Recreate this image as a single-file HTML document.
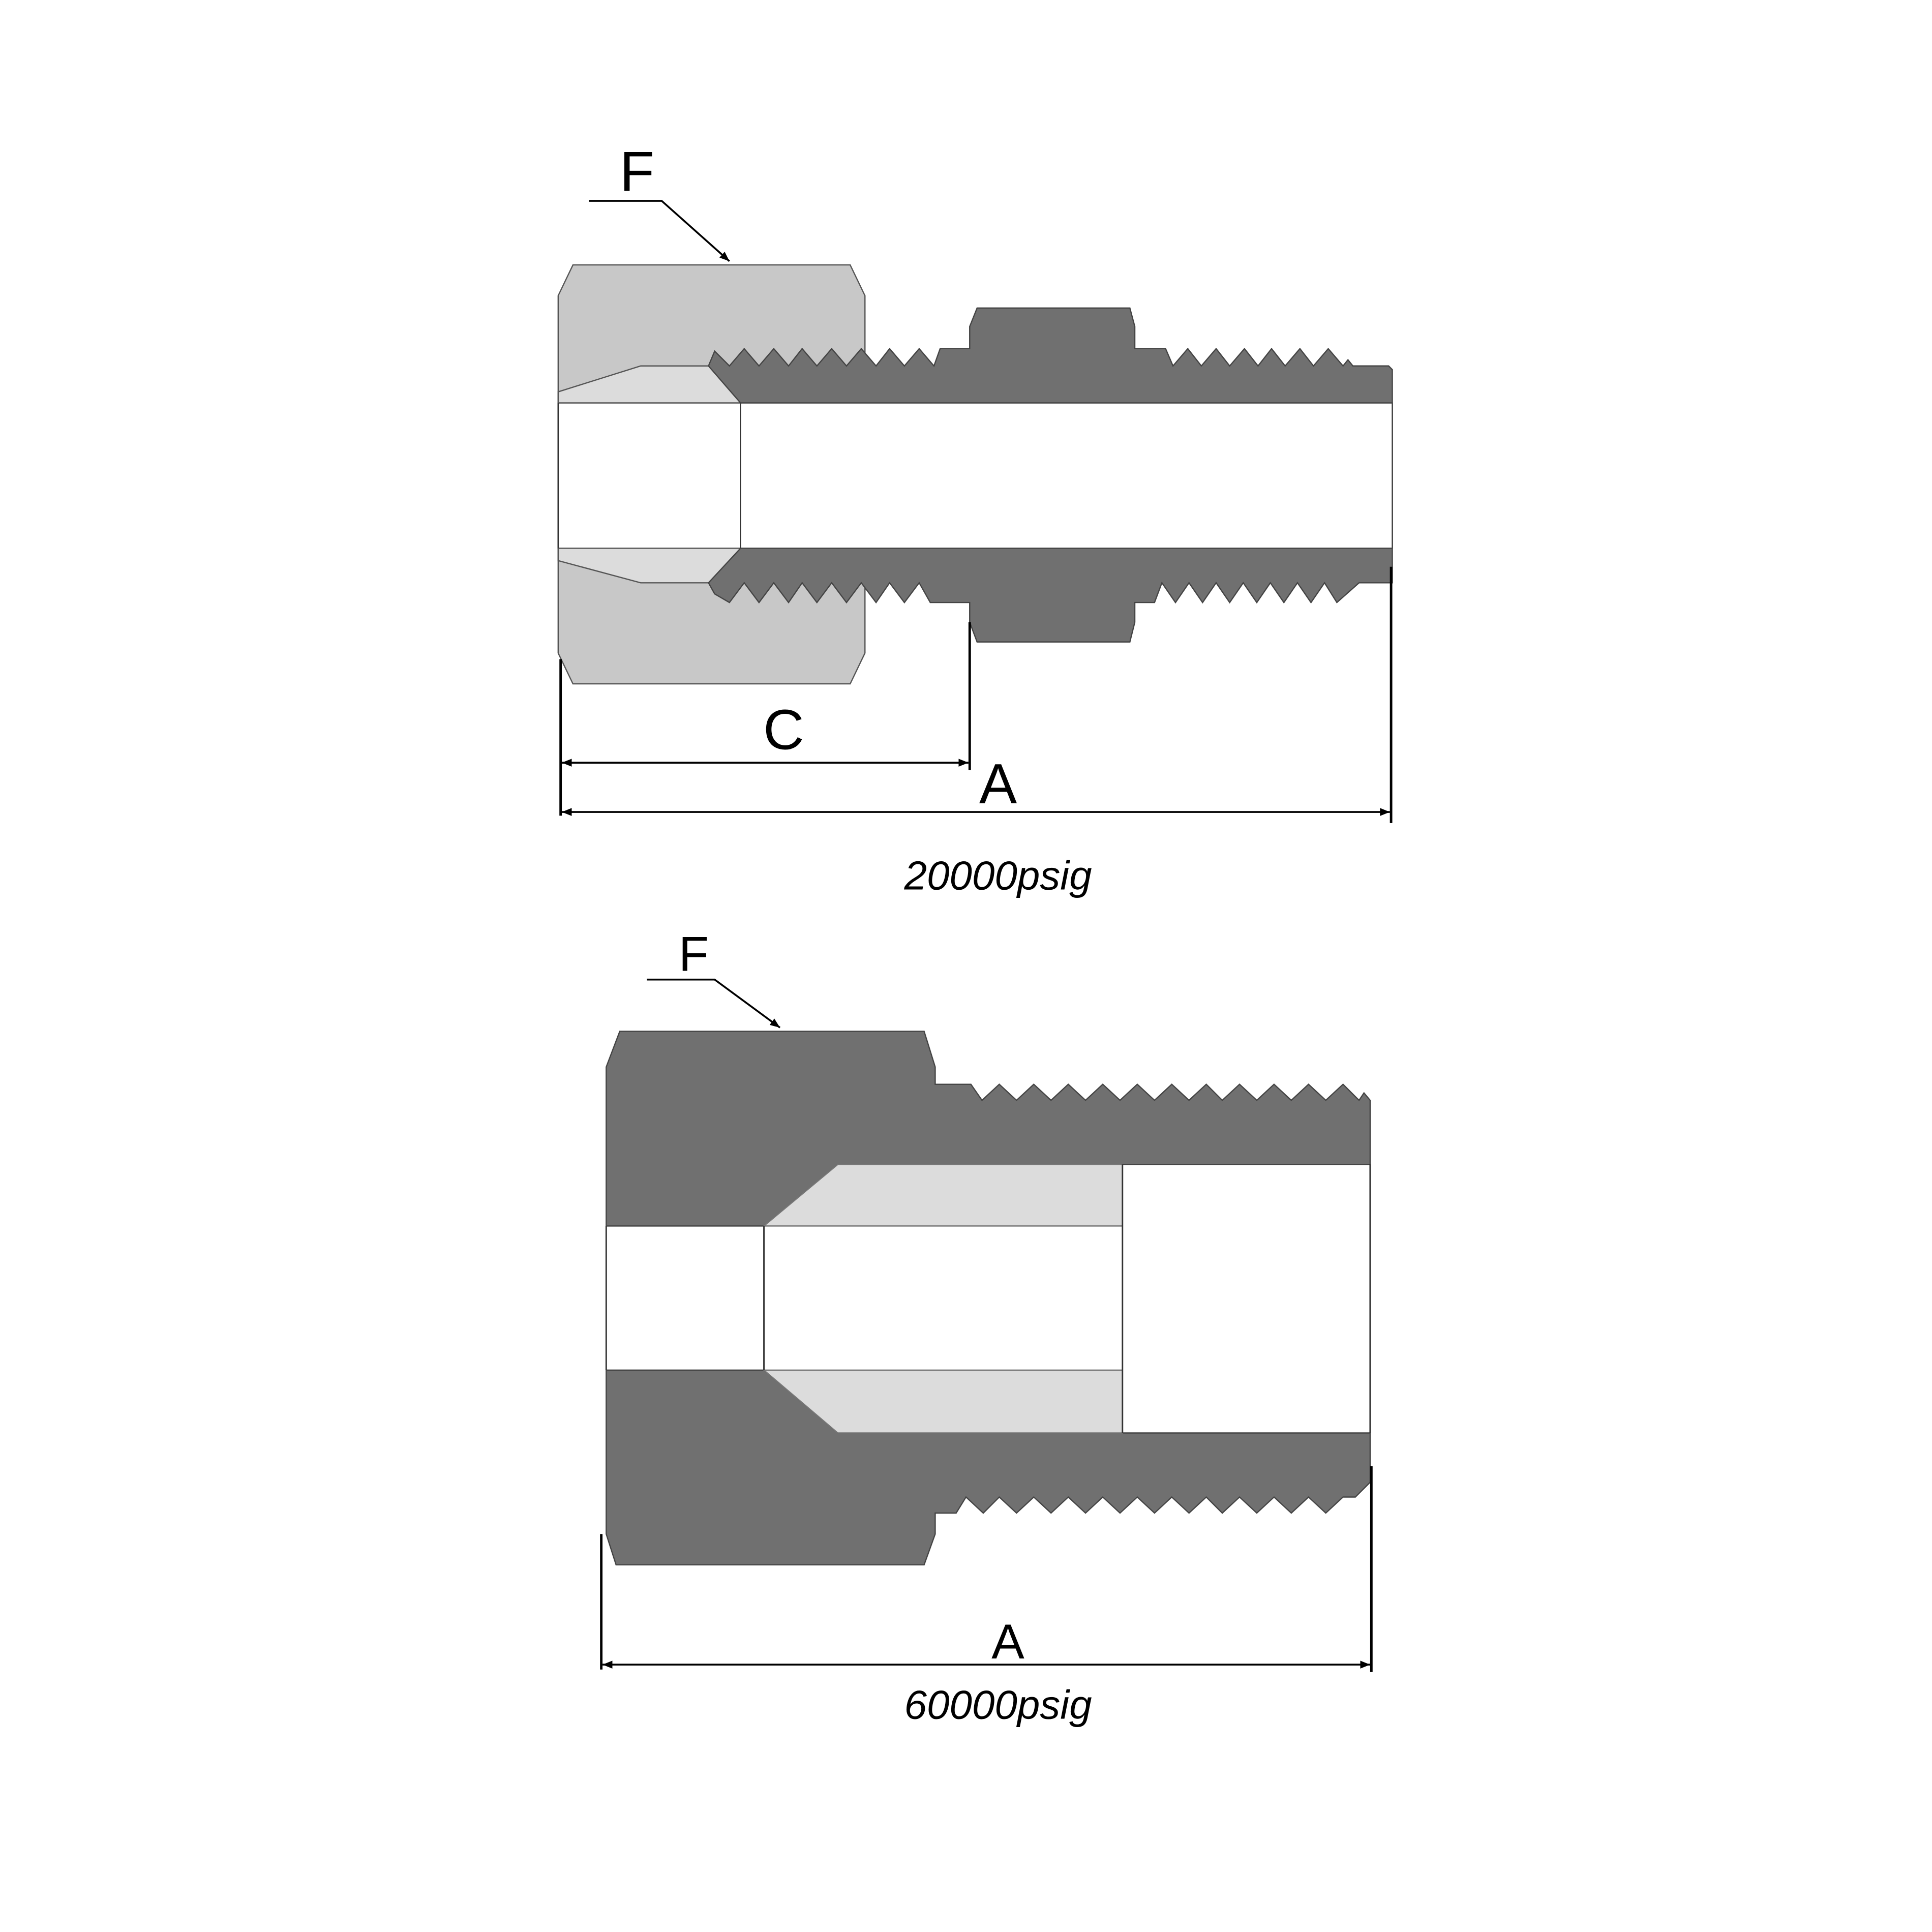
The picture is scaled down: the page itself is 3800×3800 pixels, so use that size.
<!DOCTYPE html>
<html><head><meta charset="utf-8"><style>html,body{margin:0;padding:0;background:#fff}svg{display:block}</style></head>
<body>
<svg width="3800" height="3800" viewBox="0 0 1568 1568" xmlns="http://www.w3.org/2000/svg" font-family="'Liberation Sans', sans-serif">
<rect width="1568" height="1568" fill="#fff"/>
<defs><marker id="ar" viewBox="0 0 10 10" refX="10" refY="5" markerWidth="20" markerHeight="8" markerUnits="userSpaceOnUse" orient="auto-start-reverse"><path d="M0,1 L10,5 L0,9Z" fill="#000"/></marker></defs>

<!-- TOP DRAWING -->
<polygon points="465,215 690,215 702,240 702,530 690,555 465,555 453,530 453,240" fill="#c8c8c8" stroke="#555" stroke-width="1"/>
<rect x="453" y="327" width="677" height="118" fill="#fff" stroke="#333" stroke-width="1"/>
<polygon points="453,318 520,297 577,297 601,327 453,327" fill="#dcdcdc" stroke="#555" stroke-width="1"/>
<polygon points="453,455 520,473 577,473 601,445 453,445" fill="#dcdcdc" stroke="#555" stroke-width="1"/>
<line x1="453" y1="327" x2="453" y2="445" stroke="#333"/>
<line x1="601" y1="327" x2="601" y2="445" stroke="#333"/>
<path d="M601,327 L575,297 L580,285 L592,297 L604,283 L616,297 L628,283 L640,297 L651,283 L663,297 L675,283 L687,297 L699,283 L711,297 L722,283 L734,297 L746,283 L758,297 L763,283 L787,283 L787,265 L793,250 L917,250 L921,265 L921,283 L946,283 L952,297 L964,283 L975,297 L987,283 L998,297 L1010,283 L1021,297 L1032,283 L1043,297 L1055,283 L1066,297 L1078,283 L1090,297 L1094,292 L1098,297 L1127,297 L1130,300 L1130,327 Z" fill="#707070" stroke="#444" stroke-width="1"/>
<path d="M601,445 L575,473 L580,482 L592,489 L604,473 L616,489 L628,473 L640,489 L651,473 L663,489 L675,473 L687,489 L699,473 L711,489 L722,473 L734,489 L746,473 L755,489 L787,489 L787,505 L793,521 L917,521 L921,505 L921,489 L937,489 L943,473 L954,489 L965,473 L976,489 L987,473 L998,489 L1009,473 L1020,489 L1031,473 L1042,489 L1053,473 L1064,489 L1075,473 L1085,489 L1103,473 L1130,473 L1130,445 Z" fill="#707070" stroke="#444" stroke-width="1"/>
<g stroke="#000" stroke-width="2" fill="none">
<line x1="455" y1="535" x2="455" y2="662"/>
<line x1="787" y1="505" x2="787" y2="625"/>
<line x1="1129" y1="460" x2="1129" y2="668"/>
<line x1="456" y1="619" x2="786" y2="619" marker-end="url(#ar)" marker-start="url(#ar)" stroke-width="1.5"/>
<line x1="456" y1="659" x2="1128" y2="659" marker-end="url(#ar)" marker-start="url(#ar)" stroke-width="1.5"/>
<polyline points="478,163 537,163 592,212" stroke-width="1.5" marker-end="url(#ar)"/>
</g>
<text x="517" y="155" font-size="46" text-anchor="middle">F</text>
<text x="636" y="608" font-size="46" text-anchor="middle">C</text>
<text x="810" y="652" font-size="46" text-anchor="middle">A</text>
<text x="810" y="722" font-size="33" font-style="italic" text-anchor="middle">20000psig</text>

<!-- BOTTOM DRAWING -->
<path d="M503,837 L750,837 L759,866 L759,880 L788,880 L797,893 L811,880 L825,893 L839,880 L853,893 L867,880 L881,893 L895,880 L909,893 L923,880 L937,893 L951,880 L965,893 L979,880 L992,893 L1006,880 L1020,893 L1034,880 L1048,893 L1062,880 L1076,893 L1090,880 L1103,893 L1107,887 L1112,893 L1112,945 L680,945 L620,995 L492,995 L492,866 Z" fill="#707070" stroke="#444" stroke-width="1"/>
<path d="M492,1112 L620,1112 L680,1163 L1112,1163 L1112,1203 L1100,1215 L1090,1215 L1076,1228 L1062,1215 L1048,1228 L1034,1215 L1020,1228 L1006,1215 L992,1228 L979,1215 L965,1228 L951,1215 L937,1228 L923,1215 L909,1228 L895,1215 L881,1228 L867,1215 L853,1228 L839,1215 L825,1228 L811,1215 L798,1228 L784,1215 L776,1228 L759,1228 L759,1245 L750,1270 L500,1270 L492,1245 Z" fill="#707070" stroke="#444" stroke-width="1"/>
<polygon points="620,995 680,945 911,945 911,995" fill="#dcdcdc" stroke="#777" stroke-width="1"/>
<polygon points="620,1112 911,1112 911,1163 680,1163" fill="#dcdcdc" stroke="#777" stroke-width="1"/>
<g stroke="#333" stroke-width="1.2" fill="none">
<line x1="492" y1="995" x2="492" y2="1112"/>
<line x1="620" y1="995" x2="620" y2="1112"/>
<line x1="911" y1="945" x2="911" y2="1163"/>
<line x1="1112" y1="945" x2="1112" y2="1163"/>
</g>
<g stroke="#000" stroke-width="2" fill="none">
<line x1="488" y1="1245" x2="488" y2="1355"/>
<line x1="1113" y1="1190" x2="1113" y2="1357"/>
<line x1="489" y1="1351" x2="1112" y2="1351" stroke-width="1.5" marker-start="url(#ar)" marker-end="url(#ar)"/>
<polyline points="525,795 580,795 633,834" stroke-width="1.5" marker-end="url(#ar)"/>
</g>
<text x="563" y="788" font-size="40" text-anchor="middle">F</text>
<text x="818" y="1346" font-size="40" text-anchor="middle">A</text>
<text x="810" y="1395" font-size="33" font-style="italic" text-anchor="middle">60000psig</text>
</svg>
</body></html>
